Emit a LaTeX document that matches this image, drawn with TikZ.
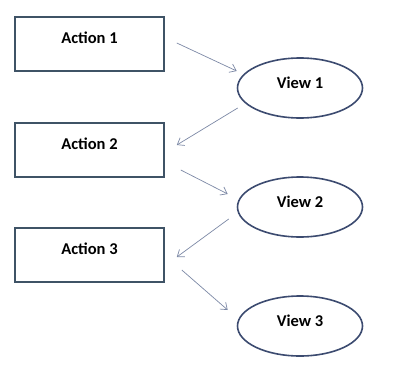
\documentclass[tikz,border=0pt]{standalone}
\usepackage{fontspec}
\setmainfont{Carlito}
\usepackage{xcolor}
\usetikzlibrary{arrows.meta, positioning, calc, shapes.geometric}
\definecolor{boxline}{HTML}{3F5366}
\definecolor{viewline}{HTML}{3C4B70}
\definecolor{arrowline}{HTML}{7D89A6}

\begin{document}
\begin{tikzpicture}[x=1pt, y=-1pt,
    actionbox/.style={rectangle, draw=boxline, line width=1.6pt, minimum width=149pt,
        inner sep=0pt, text height=26pt, text depth=28pt, font=\bfseries\fontsize{16.5}{18}\selectfont},
    viewshape/.style={ellipse, draw=viewline, line width=1.6pt, minimum width=125pt,
        minimum height=60pt, inner sep=0pt, text height=11pt, text depth=11pt,
        font=\bfseries\fontsize{16.5}{18}\selectfont},
    flow/.style={draw=arrowline, line width=0.7pt, -{Straight Barb[length=6pt, width=9pt]}}]
    \useasboundingbox (0,0) rectangle (395,380);
    \fill[white] (0,0) rectangle (395,380);
    % actions on the left
    \node[actionbox] (a1) at (89.5,44) {Action 1};
    \node[actionbox] (a2) at (89.5,150) {Action 2};
    \node[actionbox] (a3) at (89.5,255) {Action 3};
    % views on the right
    \node[viewshape] (v1) at (300,88) {View 1};
    \node[viewshape] (v2) at (300,207) {View 2};
    \node[viewshape] (v3) at (300,326) {View 3};
    % flow between them
    \draw[flow] ($(a1.east)+(12,-1)$) -- ($(v1.west)+(0,-17)$);
    \draw[flow] ($(v1.west)+(1,20)$) -- ($(a2.east)+(12,-5)$);
    \draw[flow] ($(a2.east)+(16,20)$) -- ($(v2.west)+(-9,-13)$);
    \draw[flow] ($(v2.west)+(-8,12)$) -- ($(a3.east)+(12,2)$);
    \draw[flow] ($(a3.east)+(17,15)$) -- ($(v3.west)+(-9,-16)$);
\end{tikzpicture}
\end{document}
